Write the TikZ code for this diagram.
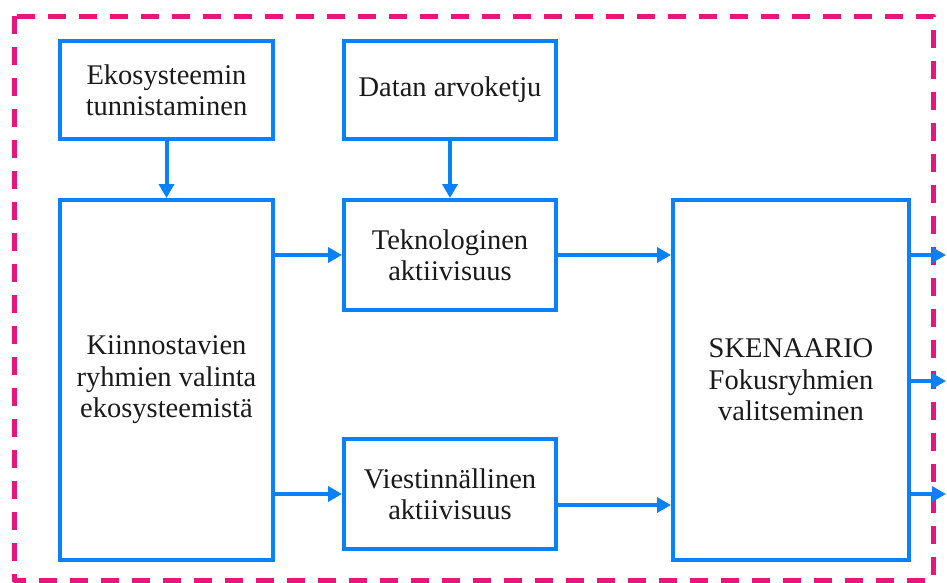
\documentclass[tikz,border=0pt]{standalone}
\usepackage{fontspec}
\setmainfont{Liberation Serif}
\usetikzlibrary{arrows.meta}
\definecolor{flowblue}{HTML}{0A80FA}
\definecolor{framepink}{HTML}{E8157F}
\definecolor{txt}{HTML}{1A1A1A}
\begin{document}
\begin{tikzpicture}[x=1pt,y=-1pt,
  stepbox/.style={draw=flowblue, line width=4pt, fill=white, align=center,
    text=txt, font=\fontsize{28.5}{31.5}\selectfont, inner sep=0pt},
  flow/.style={draw=flowblue, line width=4pt,
    -{Triangle[length=14pt,width=15pt]}, color=flowblue},
  frame/.style={draw=framepink, line width=5pt, dash pattern=on 18pt off 13pt,
    line join=round}]
\useasboundingbox (0,0) rectangle (947,582);
% outer dashed frame
\draw[frame] (14,16) rectangle (933,580);
% boxes
\node[stepbox, minimum width=213pt, minimum height=98pt] (eko) at (166.5,90)
  {Ekosysteemin\\tunnistaminen};
\node[stepbox, minimum width=212pt, minimum height=98pt] (data) at (450,90)
  {Datan arvoketju};
\node[stepbox, minimum width=213pt, minimum height=360pt] (kiin) at (166.5,380)
  {Kiinnostavien\\ryhmien valinta\\ekosysteemistä};
\node[stepbox, minimum width=212pt, minimum height=110pt] (tek) at (450,255)
  {Teknologinen\\aktiivisuus};
\node[stepbox, minimum width=212pt, minimum height=110pt] (vies) at (450,494)
  {Viestinnällinen\\aktiivisuus};
\node[stepbox, minimum width=236pt, minimum height=360pt] (sken) at (791,380)
  {SKENAARIO\\Fokusryhmien\\valitseminen};
% outgoing ends
\coordinate (o1) at (946,255);
\coordinate (o2) at (946,381);
\coordinate (o3) at (946,494);
\coordinate (v2) at (560,505);
% connectors
\draw[flow] (eko.south) -- (kiin.north -| eko.south);
\draw[flow] (data.south) -- (tek.north);
\draw[flow] (kiin.east |- tek.west) -- (tek.west);
\draw[flow] (kiin.east |- vies.west) -- (vies.west);
\draw[flow] (tek.east) -- (sken.west |- tek.east);
\draw[flow] (vies.east |- v2) -- (sken.west |- v2);
\draw[flow] (sken.east |- o1) -- (o1);
\draw[flow] (sken.east |- o2) -- (o2);
\draw[flow] (sken.east |- o3) -- (o3);
\end{tikzpicture}
\end{document}
